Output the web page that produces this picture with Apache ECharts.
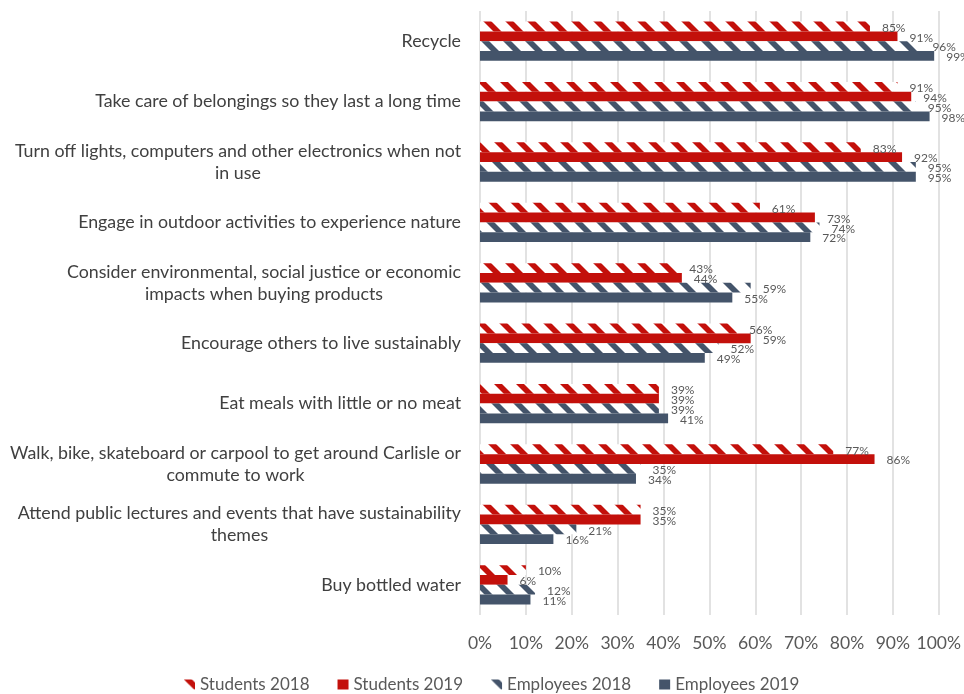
<!DOCTYPE html>
<html>
<head>
<meta charset="utf-8">
<script src="https://cdn.jsdelivr.net/npm/echarts@6/dist/echarts.min.js"></script>
<style>
  html, body { margin: 0; padding: 0; background: #ffffff; }
  #chart { width: 964px; height: 694px; }
</style>
</head>
<body>
<div id="chart"></div>
<script>
// Sustainable behaviours survey: share of respondents, by group and year (%)
const categories = [
  'Recycle',
  'Take care of belongings so they last a long time',
  'Turn off lights, computers and other electronics when not\nin use',
  'Engage in outdoor activities to experience nature',
  'Consider environmental, social justice or economic\nimpacts when buying products',
  'Encourage others to live sustainably',
  'Eat meals with little or no meat',
  'Walk, bike, skateboard or carpool to get around Carlisle or\ncommute to work',
  'Attend public lectures and events that have sustainability\nthemes',
  'Buy bottled water'
];
const seriesNames = ['Students 2018', 'Students 2019', 'Employees 2018', 'Employees 2019'];
const students2018  = [85, 91, 83, 61, 43, 56, 39, 77, 35, 10];
const students2019  = [91, 94, 92, 73, 44, 59, 39, 86, 35, 6];
const employees2018 = [96, 95, 95, 74, 59, 52, 39, 35, 21, 12];
const employees2019 = [99, 98, 95, 72, 55, 49, 41, 34, 16, 11];

const RED = '#C3100B';
const NAVY = '#44546A';
const FONT = 'Lato, "Open Sans", sans-serif';

// Wide downward-diagonal hatch on white, used for the 2018 series
function hatch(color) {
  const P = 22, w = 8;
  const c = document.createElement('canvas');
  c.width = P; c.height = P;
  const g = c.getContext('2d');
  g.fillStyle = '#ffffff';
  g.fillRect(0, 0, P, P);
  g.fillStyle = color;
  for (const o of [-P, 0, P]) {
    g.beginPath();
    g.moveTo(o, 0);
    g.lineTo(o + w, 0);
    g.lineTo(o + w + P, P);
    g.lineTo(o + P, P);
    g.closePath();
    g.fill();
  }
  return { image: c, repeat: 'repeat' };
}

const valueLabel = {
  show: true,
  position: 'right',
  distance: 12,
  offset: [0, 1.5],
  formatter: '{c}%',
  color: '#595959',
  fontSize: 12,
  fontFamily: FONT
};

function barSeries(name, data, color) {
  return {
    name: name,
    type: 'bar',
    data: data,
    barGap: '0%',
    barCategoryGap: '35%',
    itemStyle: { color: color },
    label: valueLabel,
    emphasis: { disabled: true }
  };
}

const chart = echarts.init(document.getElementById('chart'), null, { renderer: 'canvas' });
chart.setOption({
  animation: false,
  backgroundColor: '#ffffff',
  grid: { left: 480, right: 24, top: 11, height: 604, containLabel: false },
  legend: {
    data: seriesNames,
    left: 179,
    top: 671,
    icon: 'rect',
    itemWidth: 11,
    itemHeight: 10,
    itemGap: 28,
    textStyle: { color: '#595959', fontSize: 17, fontFamily: FONT }
  },
  xAxis: {
    type: 'value',
    min: 0,
    max: 100,
    interval: 10,
    axisLine: { show: false },
    axisTick: { show: false },
    axisLabel: {
      formatter: '{value}%',
      color: '#595959',
      fontSize: 17.5,
      fontFamily: FONT,
      margin: 19
    },
    splitLine: { show: true, lineStyle: { color: '#D9D9D9', width: 1.5 } }
  },
  yAxis: {
    type: 'category',
    inverse: true,
    data: categories,
    axisLine: { show: false },
    axisTick: { show: false },
    axisLabel: {
      margin: 19,
      align: 'right',
      formatter: function (v) {
        return v.split('\n').map(function (s) { return '{c|' + s + '}'; }).join('\n');
      },
      rich: {
        c: { align: 'center', color: '#404040', fontSize: 17.8, lineHeight: 22, fontFamily: FONT }
      }
    }
  },
  series: [
    barSeries(seriesNames[0], students2018, hatch(RED)),
    barSeries(seriesNames[1], students2019, RED),
    barSeries(seriesNames[2], employees2018, hatch(NAVY)),
    barSeries(seriesNames[3], employees2019, NAVY)
  ]
});
</script>
</body>
</html>
